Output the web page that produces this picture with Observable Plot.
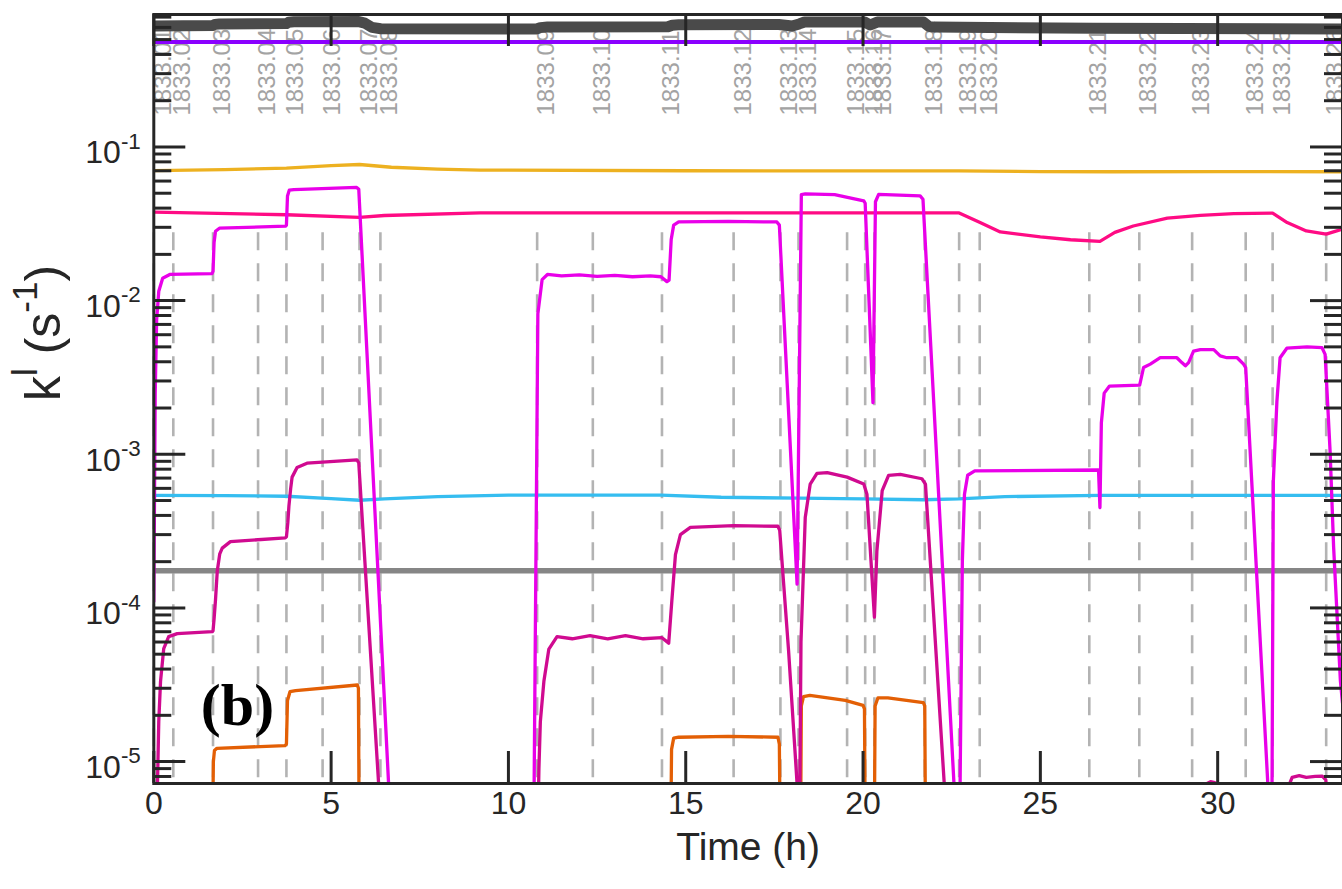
<!DOCTYPE html>
<html><head><meta charset="utf-8">
<script src="https://cdn.jsdelivr.net/npm/d3@7"></script>
<script src="https://cdn.jsdelivr.net/npm/@observablehq/plot@0.6"></script>
<style>body{margin:0;background:#fff} svg{display:block}</style>
</head><body><div id="chart"></div>
<script>
// ---------- axis ticks / labels ----------
const xTicks = [0, 5, 10, 15, 20, 25, 30];
const yDecades = [1e-5, 1e-4, 1e-3, 1e-2, 1e-1];
const yTickLabels = ["10^{-5}", "10^{-4}", "10^{-3}", "10^{-2}", "10^{-1}"];
const minorMultipliers = [2, 3, 4, 5, 6, 7, 8, 9];
const minorExponents = [-6, -5, -4, -3, -2, -1];
const xDomain = [0, 33.52];
const yDomain = [7.2e-6, 0.728];
const xLabel = "Time (h)";
const yLabel = "k^{l} (s^{-1})";
const panelLabel = "(b)";

// ---------- event markers (vertical dashed lines) ----------
const eventT = [0.0, 0.55, 1.67, 2.94, 3.74, 4.76, 5.80, 6.39, 10.81, 12.38, 14.33, 16.35, 17.67, 18.18,
  19.55, 20.06, 20.32, 21.74, 22.71, 23.29, 26.38, 27.79, 29.28, 30.79, 31.55, 33.06];
const eventLabels = ["1833.01","1833.02","1833.03","1833.04","1833.05","1833.06","1833.07","1833.08",
  "1833.09","1833.10","1833.11","1833.12","1833.13","1833.14","1833.15","1833.16","1833.17","1833.18",
  "1833.19","1833.20","1833.21","1833.22","1833.23","1833.24","1833.25","1833.26"];
const eventLineTop = 0.0276;

// ---------- series: [time (h), k (1/s)] ----------
const bandSeries = [[0,0.612],[1.67,0.618],[1.72,0.628],[1.85,0.632],[3.74,0.635],[3.80,0.648],[3.95,0.652],
  [5.78,0.655],[5.95,0.640],[6.15,0.600],[6.4,0.588],[10.80,0.586],[10.90,0.598],[11.1,0.603],[14.5,0.606],
  [14.62,0.620],[14.8,0.624],[17.62,0.626],[18.0,0.612],[18.2,0.632],[18.35,0.650],[20.05,0.650],[20.2,0.622],
  [20.4,0.650],[21.7,0.650],[21.85,0.610],[22.0,0.603],[26.5,0.593],[33.52,0.585]];
const purpleSeries = [[0,0.482],[33.52,0.482]];
const goldSeries = [[0,0.0702],[2.0,0.0712],[3.74,0.0729],[5.0,0.0755],[5.8,0.0769],[6.7,0.0738],[8.0,0.0718],
  [9.2,0.0707],[15,0.0700],[22.7,0.0698],[25,0.0692],[27,0.0690],[30,0.0692],[33.52,0.0690]];
const roseSeries = [[0,0.0377],[3.74,0.0362],[5.8,0.0348],[6.5,0.0358],[9.2,0.0372],[15,0.0373],[22.71,0.0372],
  [23.3,0.0322],[23.87,0.0280],[25.0,0.0260],[25.85,0.0249],[26.68,0.0243],[27.1,0.0278],[27.62,0.0306],
  [28.58,0.0344],[29.51,0.0359],[30.45,0.0368],[31.55,0.0371],[31.96,0.0322],[32.5,0.0284],[33.06,0.0271],[33.52,0.0292]];
const magentaSeries = [[0,1.1e-4],[0.04,2.5e-3],[0.08,7.5e-3],[0.14,1.15e-2],[0.25,1.4e-2],[0.45,1.48e-2],
  [1.64,1.5e-2],[1.67,1.55e-2],[1.70,2.4e-2],[1.74,2.83e-2],[1.85,2.96e-2],[3.72,3.05e-2],[3.74,3.1e-2],
  [3.77,4.8e-2],[3.82,5.23e-2],[3.95,5.27e-2],[5.72,5.45e-2],[5.78,5.3e-2],[6.70,3.1e-6],
  [10.72,5e-6],[10.83,8.2e-3],[10.95,1.37e-2],[11.1,1.48e-2],[11.5,1.45e-2],[12.0,1.47e-2],[12.5,1.44e-2],
  [13.0,1.46e-2],[13.5,1.43e-2],[14.0,1.45e-2],[14.3,1.43e-2],[14.47,1.33e-2],[14.53,1.36e-2],[14.59,2.5e-2],
  [14.66,3.1e-2],[14.8,3.25e-2],[16.2,3.28e-2],[17.57,3.25e-2],[17.64,3.1e-2],[18.14,1.43e-4],[18.26,4.9e-2],
  [18.37,4.95e-2],[19.2,4.9e-2],[20.02,4.46e-2],[20.06,4.3e-2],[20.28,2.17e-3],[20.35,4.4e-2],[20.44,4.92e-2],
  [21.61,4.8e-2],[21.69,4.57e-2],[22.60,5e-6],[22.73,5e-6],[22.80,2.0e-4],[22.86,5.5e-4],[22.95,7.3e-4],
  [23.15,7.8e-4],[26.64,7.9e-4],[26.68,4.5e-4],[26.72,1.6e-3],[26.80,2.5e-3],[26.95,2.78e-3],[27.80,2.82e-3],
  [27.91,3.67e-3],[28.1,3.86e-3],[28.38,4.25e-3],[28.85,4.25e-3],[28.99,3.95e-3],[29.09,3.77e-3],[29.18,3.95e-3],
  [29.32,4.69e-3],[29.51,4.8e-3],[29.89,4.8e-3],[30.07,4.37e-3],[30.26,4.25e-3],[30.55,4.25e-3],[30.73,3.86e-3],
  [30.79,3.67e-3],[31.45,5e-6],[31.53,5e-6],[31.57,6.7e-4],[31.67,2.2e-3],[31.76,4.25e-3],[31.95,4.9e-3],
  [32.52,5.0e-3],[32.94,4.95e-3],[33.03,4.47e-3],[33.17,1.05e-3],[33.27,2.48e-4],[33.46,3.37e-5],[33.52,2.4e-5]];
const crimsonSeries = [[0.09,5e-6],[0.14,1.82e-5],[0.19,3.33e-5],[0.28,5.43e-5],[0.42,6.5e-5],[0.66,6.8e-5],
  [1.65,7.0e-5],[1.67,7.1e-5],[1.70,8.5e-5],[1.74,1.13e-4],[1.79,1.74e-4],[1.86,2.25e-4],[1.93,2.45e-4],
  [2.16,2.7e-4],[3.71,2.86e-4],[3.74,2.9e-4],[3.78,3.6e-4],[3.81,4.6e-4],[3.86,6.0e-4],[3.90,7.1e-4],
  [4.04,8.2e-4],[4.32,8.75e-4],[5.73,9.2e-4],[5.78,8.8e-4],[6.42,3.6e-6],
  [10.84,5e-6],[10.86,9e-6],[10.90,1.82e-5],[11.0,3.33e-5],[11.14,5.4e-5],[11.37,6.5e-5],[11.8,6.3e-5],
  [12.3,6.6e-5],[12.8,6.3e-5],[13.3,6.6e-5],[13.8,6.3e-5],[14.33,6.4e-5],[14.52,5.9e-5],[14.61,1.13e-4],
  [14.71,2.22e-4],[14.85,3.0e-4],[15.13,3.34e-4],[16.35,3.43e-4],[17.60,3.40e-4],[17.65,3.2e-4],[17.90,5.27e-5],
  [18.21,4e-6],[18.25,6e-5],[18.37,3.88e-4],[18.51,6.4e-4],[18.70,7.5e-4],[18.99,7.6e-4],[19.55,7.1e-4],
  [20.02,6.4e-4],[20.11,5.5e-4],[20.32,8.7e-5],[20.39,2.34e-4],[20.54,5.8e-4],[20.72,7.3e-4],[21.05,7.4e-4],
  [21.66,6.93e-4],[21.76,6.4e-4],[22.35,4.3e-6],[29.62,5e-6],[29.70,7.2e-6],[29.80,7.4e-6],[29.92,7.3e-6],
  [29.98,6.5e-6],[30.05,5e-6],[31.98,5e-6],[32.03,7.2e-6],[32.1,7.9e-6],[32.3,8.1e-6],[32.5,7.9e-6],
  [32.75,8.0e-6],[32.95,8.05e-6],[33.05,7.6e-6],[33.10,5e-6],[33.52,4e-6]];
const orangeSeries = [[1.66,4e-6],[1.68,1.0e-5],[1.71,1.18e-5],[1.78,1.22e-5],[3.70,1.27e-5],[3.74,1.3e-5],
  [3.77,2.5e-5],[3.84,2.85e-5],[4.0,2.9e-5],[5.74,3.15e-5],[5.77,3.0e-5],[5.79,4e-6],[14.58,4e-6],[14.60,1.2e-5],
  [14.66,1.42e-5],[14.8,1.44e-5],[16.2,1.46e-5],[17.60,1.44e-5],[17.64,1.3e-5],[17.66,4e-6],[18.24,4e-6],
  [18.26,2.3e-5],[18.32,2.65e-5],[18.5,2.7e-5],[19.5,2.5e-5],[20.0,2.32e-5],[20.04,2.2e-5],[20.06,4e-6],
  [20.32,4e-6],[20.34,2.3e-5],[20.42,2.6e-5],[20.7,2.6e-5],[21.7,2.42e-5],[21.74,2.3e-5],[21.76,4e-6]];
const skySeries = [[0,5.4e-4],[2,5.38e-4],[3.74,5.33e-4],[5.0,5.15e-4],[5.8,5.02e-4],[6.5,5.12e-4],[8,5.3e-4],
  [10,5.42e-4],[14.3,5.42e-4],[16.0,5.25e-4],[18.2,5.18e-4],[20.0,5.12e-4],[21.7,5.06e-4],[22.7,5.12e-4],
  [24,5.3e-4],[26.7,5.4e-4],[33.52,5.4e-4]];
const greySeries = [[0,1.745e-4],[33.52,1.745e-4]];

// ---------- layout ----------
const W = 1342, H = 889;
const mL = 153.3, mR = 0, mT = 14, mB = 106;
const plotW = W - mL - mR, plotH = H - mT - mB;
const axisColor = "#262626";
const tickFont = 32;

const yMinor = [];
for (const e of minorExponents) for (const k of minorMultipliers) {
  const v = k * Math.pow(10, e);
  if (v >= yDomain[0] && v <= yDomain[1]) yMinor.push(v);
}

const line = (data, stroke, strokeWidth = 3.3) =>
  Plot.line(data, {x: d => d[0], y: d => d[1], stroke, strokeWidth, strokeLinejoin: "round", strokeLinecap: "round", clip: true});

const svg = Plot.plot({
  width: W, height: H,
  marginLeft: mL, marginRight: mR, marginTop: mT, marginBottom: mB,
  style: {fontFamily: "'Liberation Sans', Arial, Helvetica, sans-serif", background: "#fff", overflow: "visible"},
  x: {domain: xDomain, axis: null},
  y: {type: "log", domain: yDomain, axis: null},
  marks: [
    Plot.ruleX(eventT, {x: d => d, y1: eventLineTop, y2: yDomain[0], stroke: "#b3b3b3", strokeWidth: 2.6, strokeDasharray: "18,13"}),
    Plot.text(eventT, {x: d => d, frameAnchor: "top", dy: 101, rotate: -90, textAnchor: "start",
      text: (d, i) => eventLabels[i], fill: "#a3a3a3", fontSize: 24}),
    line(greySeries, "#868686", 5.5),
    line(skySeries, "#35bdf0"),
    line(goldSeries, "#edb120"),
    line(roseSeries, "#ff0b84"),
    line(orangeSeries, "#e35f05"),
    line(crimsonSeries, "#d00a90"),
    line(magentaSeries, "#e900e9"),
    line(purpleSeries, "#8a00ff", 4),
    line(bandSeries, "#4a4a4a", 11),
    // ticks (inward, MATLAB style)
    Plot.tickY(yDecades, {y: d => d, insetRight: plotW - 32, stroke: axisColor, strokeWidth: 3}),
    Plot.tickY(yMinor, {y: d => d, insetRight: plotW - 18, stroke: axisColor, strokeWidth: 3}),
    Plot.tickY(yDecades, {y: d => d, insetLeft: plotW - 32, stroke: axisColor, strokeWidth: 3}),
    Plot.tickY(yMinor, {y: d => d, insetLeft: plotW - 18, stroke: axisColor, strokeWidth: 3}),
    Plot.tickX(xTicks, {x: d => d, insetTop: plotH - 32, stroke: axisColor, strokeWidth: 3}),
    Plot.tickX(xTicks, {x: d => d, insetBottom: plotH - 32, stroke: axisColor, strokeWidth: 3}),
    Plot.frame({stroke: axisColor, strokeWidth: 3}),
    // tick labels
    Plot.text(xTicks, {x: d => d, frameAnchor: "bottom", dy: 30, text: d => String(d), fontSize: tickFont, fill: axisColor}),
    Plot.text(yDecades, {y: d => d, frameAnchor: "left", dx: -13, dy: 6, textAnchor: "end",
      text: (d, i) => yTickLabels[i], fontSize: tickFont, fill: axisColor}),
    // axis labels
    Plot.text([xLabel], {frameAnchor: "bottom", dy: 76, text: d => d, fontSize: 39, fill: axisColor}),
    Plot.text([yLabel], {frameAnchor: "left", dx: -110, dy: 2, rotate: -90, text: d => d, fontSize: 50, fill: axisColor}),
    Plot.text([panelLabel], {frameAnchor: "bottom-left", dx: 47, dy: -59, textAnchor: "start", text: d => d,
      fontSize: 60, fontWeight: "bold", fontFamily: "'Liberation Serif', 'Times New Roman', serif", fill: "#000"})
  ]
});
document.getElementById("chart").appendChild(svg);

// render "^{...}" as real superscripts
svg.querySelectorAll("text").forEach(t => {
  const s = t.textContent;
  if (!s.includes("^{")) return;
  const fs = parseFloat(getComputedStyle(t).fontSize);
  const parts = s.split(/(\^\{[^}]*\})/).filter(p => p.length);
  while (t.firstChild) t.removeChild(t.firstChild);
  let raised = false;
  for (const p of parts) {
    const ts = document.createElementNS("http://www.w3.org/2000/svg", "tspan");
    if (p.startsWith("^{")) {
      ts.textContent = p.slice(2, -1);
      ts.setAttribute("font-size", (fs * 0.7).toFixed(1));
      ts.setAttribute("dy", (-fs * 0.45).toFixed(1));
      raised = true;
    } else {
      ts.textContent = p;
      if (raised) { ts.setAttribute("dy", (fs * 0.45).toFixed(1)); raised = false; }
    }
    t.appendChild(ts);
  }
});
</script>
</body></html>
